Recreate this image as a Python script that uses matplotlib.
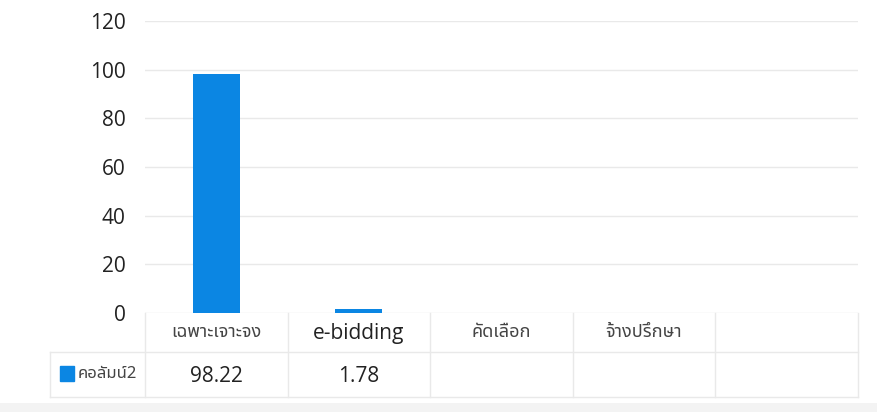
import matplotlib.pyplot as plt
from matplotlib import font_manager
from matplotlib.ft2font import FT2Font
from matplotlib.lines import Line2D
from matplotlib.patches import Rectangle
from matplotlib.transforms import blended_transform_factory

categories = ['เฉพาะเจาะจง', 'e-bidding', 'คัดเลือก', 'จ้างปรึกษา', '']
values = [98.22, 1.78, None, None, None]
value_labels = ['98.22', '1.78', '', '', '']
series_name = 'คอลัมน์2'
yticks = [0, 20, 40, 60, 80, 100, 120]

BLUE = '#0b86e3'
GRID = '#e9e9e9'
W, H = 878, 412


def thai_family():
    # look for any installed font that has Thai glyphs
    found = []
    for f in font_manager.fontManager.ttflist:
        try:
            if FT2Font(f.fname).get_char_index(ord('ก')):
                found.append(f.name)
        except Exception:
            pass
    for pref in ['Tahoma', 'Noto Sans Thai', 'Loma', 'Garuda', 'Sarabun']:
        if pref in found:
            return pref
    return found[0] if found else 'DejaVu Sans'


THAI = [thai_family(), 'DejaVu Sans']
NUM = ['Open Sans', 'DejaVu Sans']


def fy(py):
    # pixel row from top -> figure fraction
    return 1 - py / H


def fx(px):
    return px / W


fig = plt.figure(figsize=(W / 100, H / 100), dpi=100)
ax = fig.add_axes([fx(145), fy(313), fx(858) - fx(145), fy(21) - fy(313)])

x = list(range(len(categories)))
ax.bar([i for i in x if values[i] is not None],
       [v for v in values if v is not None],
       width=0.33, color=BLUE, zorder=3)

ax.set_xlim(-0.5, len(categories) - 0.5)
ax.set_ylim(0, 120)
ax.set_yticks(yticks)
ax.set_yticklabels([str(t) for t in yticks], family=NUM, fontsize=15, color='#222222')
ax.tick_params(axis='y', length=0, pad=14)
ax.set_xticks([])
for s in ax.spines.values():
    s.set_visible(False)
ax.grid(axis='y', color=GRID, lw=1.0, zorder=0)

# data table under the plot
tr = blended_transform_factory(ax.transData, fig.transFigure)
for i in range(len(categories) + 1):
    fig.add_artist(Line2D([i - 0.5, i - 0.5], [fy(313), fy(397)], transform=tr,
                          color=GRID, lw=1.0))
for py in [352, 397]:
    fig.add_artist(Line2D([fx(50), fx(858)], [fy(py), fy(py)],
                          transform=fig.transFigure, color=GRID, lw=1.0))
fig.add_artist(Line2D([fx(50), fx(50)], [fy(352), fy(397)],
                      transform=fig.transFigure, color=GRID, lw=1.0))

for i, cat in enumerate(categories):
    if cat.isascii():
        fig.text(i, fy(334), cat, transform=tr, ha='center', va='center',
                 family=NUM, fontsize=15, color='#222222')
    else:
        fig.text(i, fy(332), cat, transform=tr, ha='center', va='center',
                 family=THAI, fontsize=13, color='#444444')
    fig.text(i, fy(377), value_labels[i], transform=tr, ha='center', va='center',
             family=NUM, fontsize=15, color='#222222')

fig.add_artist(Rectangle((fx(60), fy(381)), fx(14), fy(366) - fy(381),
                         transform=fig.transFigure, color=BLUE))
fig.text(fx(78), fy(374), series_name, ha='left', va='center',
         family=THAI, fontsize=12, color='#444444')

# faint grey band at the very bottom of the screenshot
fig.add_artist(Rectangle((0, 0), 1, fy(403), transform=fig.transFigure,
                         color='#f3f3f3', lw=0))

fig.savefig('out.png', dpi=100)
